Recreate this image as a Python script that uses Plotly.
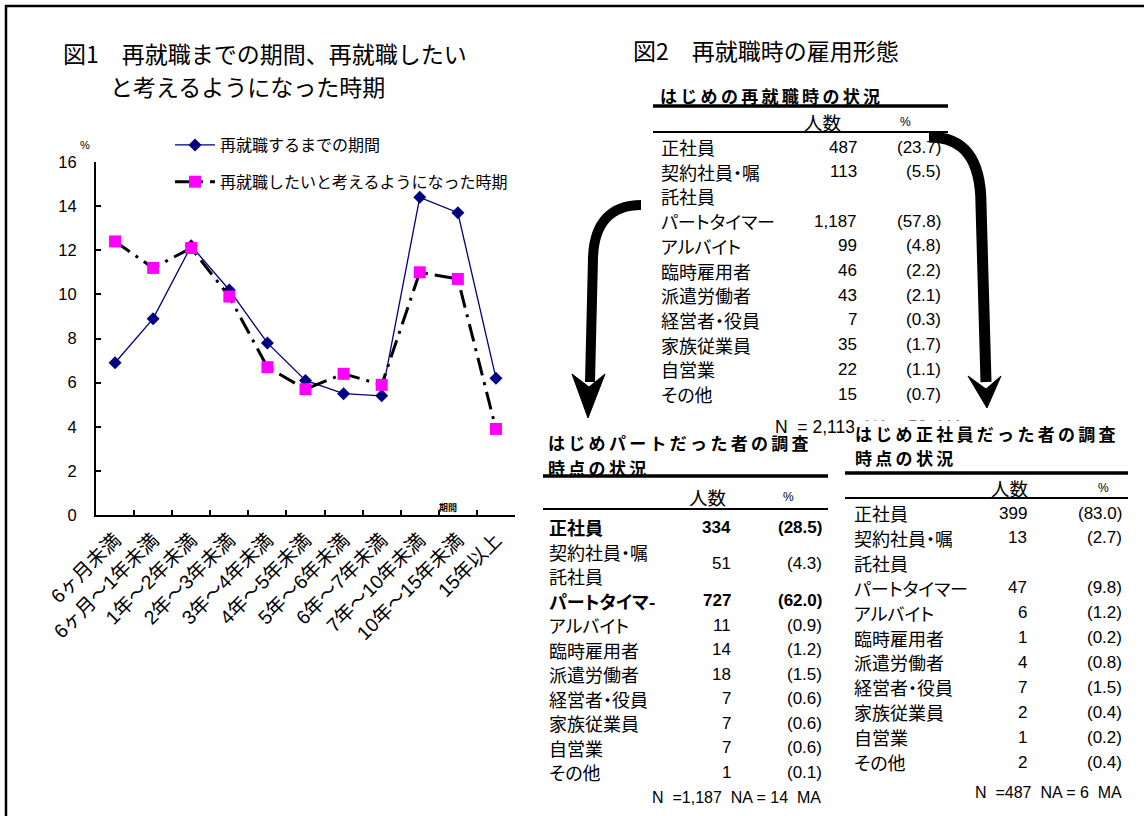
import plotly.graph_objects as go

# ---- figure size and pixel helpers ----
W, H = 1144, 816


def px(x):
    return x / W


def py(y):
    return 1 - y / H


FONT = "Liberation Sans, Arial, Noto Sans CJK JP, sans-serif"
JP = "Noto Sans CJK JP, Liberation Sans, sans-serif"

# ---- 図1 data ----
periods = ["6ヶ月未満", "6ヶ月～1年未満", "1年～2年未満", "2年～3年未満", "3年～4年未満",
           "4年～5年未満", "5年～6年未満", "6年～7年未満", "7年～10年未満", "10年～15年未満",
           "15年以上"]
until_reemployment = [6.9, 8.9, 12.2, 10.2, 7.8, 6.1, 5.5, 5.4, 14.4, 13.7, 6.2]
wish_timing = [12.4, 11.2, 12.1, 9.9, 6.7, 5.7, 6.4, 5.9, 11.0, 10.7, 3.9]
y_ticks = [0, 2, 4, 6, 8, 10, 12, 14, 16]

# ---- 図2 data ----
t1_labels = ["正社員", "契約社員・嘱\n託社員", "パートタイマー", "アルバイト", "臨時雇用者",
             "派遣労働者", "経営者・役員", "家族従業員", "自営業", "その他"]
t1_counts = [487, 113, 1187, 99, 46, 43, 7, 35, 22, 15]
t1_pcts = [23.7, 5.5, 57.8, 4.8, 2.2, 2.1, 0.3, 1.7, 1.1, 0.7]

t2_labels = ["正社員", "契約社員・嘱\n託社員", "パートタイマ-", "アルバイト", "臨時雇用者",
             "派遣労働者", "経営者・役員", "家族従業員", "自営業", "その他"]
t2_counts = [334, 51, 727, 11, 14, 18, 7, 7, 7, 1]
t2_pcts = [28.5, 4.3, 62.0, 0.9, 1.2, 1.5, 0.6, 0.6, 0.6, 0.1]

t3_labels = t1_labels
t3_counts = [399, 13, 47, 6, 1, 4, 7, 2, 1, 2]
t3_pcts = [83.0, 2.7, 9.8, 1.2, 0.2, 0.8, 1.5, 0.4, 0.2, 0.4]

fig = go.Figure()

fig.add_trace(go.Scatter(
    x=periods, y=until_reemployment, name="再就職するまでの期間",
    mode="lines+markers", legendgroup="a",
    line=dict(color="#000080", width=1.3),
    marker=dict(symbol="diamond", size=10, color="#000080"),
))
fig.add_trace(go.Scatter(
    x=periods, y=wish_timing, name="再就職したいと考えるようになった時期",
    mode="lines+markers", legendgroup="b",
    line=dict(color="#000000", width=3, dash="18px,7px,3px,7px"),
    marker=dict(symbol="square", size=12, color="#FF00FF"),
))

fig.update_xaxes(
    type="category", domain=[px(96), px(515)], range=[-0.5, 10.5],
    showline=True, linecolor="black", linewidth=2, mirror=False, automargin=False,
    ticks="inside", ticklen=5, tickwidth=1.5, tickcolor="black",
    tickson="boundaries", tickangle=-45, showgrid=False, zeroline=False,
    tickfont=dict(family=FONT, size=19.5, color="black"), ticklabelstandoff=4,
)
fig.update_yaxes(
    domain=[py(515), py(162)], range=[0, 16], tickvals=y_ticks, automargin=False,
    showline=True, linecolor="black", linewidth=2,
    ticks="inside", ticklen=5, tickwidth=1.5, tickcolor="black",
    showgrid=False, zeroline=False,
    tickfont=dict(family=FONT, size=16.5, color="black"), ticklabelstandoff=14,
)

ann = []
shapes = []

PALT = "<span style=\"font-feature-settings:'palt'\">{}</span>"


def text(x, y, s, size=17, xanchor="left", bold=False, family=JP, **kw):
    if bold:
        s = "<b>" + s + "</b>"
    kw.setdefault("borderpad", 0)
    ann.append(dict(x=px(x), y=py(y), xref="paper", yref="paper", text=s,
                    showarrow=False, xanchor=xanchor, yanchor="middle",
                    font=dict(family=family, size=size, color="black"), **kw))


def hline(x0, x1, y, w):
    shapes.append(dict(type="line", xref="paper", yref="paper",
                       x0=px(x0), x1=px(x1), y0=py(y), y1=py(y),
                       line=dict(color="black", width=w)))


# page frame
hline(5, W, 6, 2.5)
shapes.append(dict(type="line", xref="paper", yref="paper", x0=px(6), x1=px(6),
                   y0=py(5), y1=0, line=dict(color="black", width=2.5)))

# 図1 titles and axis notes
text(62, 53, "図1　再就職までの期間、再就職したい", size=23)
text(109, 86, "と考えるようになった時期", size=23)
text(85, 145, "%", size=11, xanchor="center", family=FONT)
text(448, 507, "期間", size=9, xanchor="center", bold=True)

# 図2 title
text(632, 50, "図2　再就職時の雇用形態", size=23)


def spaced(s):
    return '<span style="letter-spacing:3.3px">' + s + "</span>"


def add_table(title_lines, title_x, title_y, x0, x1, thick_y, thin_y, head_y,
              count_cx, pct_cx, label_x, count_rx, pct_rx, row_y0, row_dy,
              labels, counts, pcts, n_text, n_rx, n_y, bold_rows=(),
              value_mid=False, cover_first=False):
    for i, t in enumerate(title_lines):
        extra = dict(bgcolor="white") if (cover_first and i == 0) else {}
        text(title_x, title_y + i * 24.5, spaced("<b>" + t + "</b>"), size=17, **extra)
    hline(x0, x1, thick_y, 3.5)
    hline(x0, x1, thin_y, 2)
    text(count_cx, head_y, "人数", size=18.5, xanchor="center")
    text(pct_cx, head_y, "%", size=12, xanchor="center", family=FONT)
    line = 0
    for lab, c, p, i in zip(labels, counts, pcts, range(len(labels))):
        parts = lab.split("\n")
        b = i in bold_rows
        for k, part in enumerate(parts):
            text(label_x, row_y0 + (line + k) * row_dy, PALT.format(part), size=18, bold=b)
        vy = row_y0 + line * row_dy
        if value_mid and len(parts) > 1:
            vy += row_dy * (len(parts) - 1) / 2
        text(count_rx, vy, f"{c:,}", size=17, xanchor="right", bold=b, family=FONT)
        text(pct_rx, vy, f"({p:.1f})", size=17, xanchor="right", bold=b, family=FONT)
        line += len(parts)
    if n_text:
        text(n_rx, n_y, n_text, size=16, xanchor="right", family=FONT)


# total line of the first table, partly tucked under the next title
text(774, 427, "N  = 2,113  NA = 59  MA", size=17.5, family=FONT)

add_table(["はじめの再就職時の状況"], 659, 95, 653, 948, 106, 132, 122,
          822, 905, 660, 858, 942, 147, 24.7, t1_labels, t1_counts, t1_pcts,
          "", 942, 427)

add_table(["はじめパートだった者の調査", "時点の状況"], 547, 443, 543, 828, 476, 509, 497,
          707, 788, 548, 732, 823, 527, 24.5, t2_labels, t2_counts, t2_pcts,
          "N  =1,187  NA = 14  MA", 822, 797, bold_rows=(0, 2), value_mid=True)

add_table(["はじめ正社員だった者の調査", "時点の状況"], 854, 433, 845, 1128, 473, 498, 488,
          1009, 1103, 853, 1028, 1123, 513, 24.9, t3_labels, t3_counts, t3_pcts,
          "N  =487  NA = 6  MA", 1123, 792, cover_first=True)


def P(x, y):
    return f"{px(x):.5f},{py(y):.5f}"


# curved arrows linking the tables
shapes.append(dict(type="path", xref="paper", yref="paper",
                   path=f"M {P(641, 205)} C {P(612, 205)} {P(594, 222)} {P(593, 258)} L {P(590, 382)}",
                   line=dict(color="black", width=10), fillcolor="rgba(0,0,0,0)"))
shapes.append(dict(type="path", xref="paper", yref="paper",
                   path=f"M {P(572, 374)} L {P(589, 387)} L {P(605, 374)} L {P(588, 418)} Z",
                   line=dict(color="black", width=1), fillcolor="black"))
shapes.append(dict(type="path", xref="paper", yref="paper",
                   path=f"M {P(929, 137)} C {P(965, 137)} {P(981, 160)} {P(981, 205)} L {P(986, 382)}",
                   line=dict(color="black", width=11), fillcolor="rgba(0,0,0,0)"))
shapes.append(dict(type="path", xref="paper", yref="paper",
                   path=f"M {P(968, 376)} L {P(986, 389)} L {P(1001, 376)} L {P(987, 408)} Z",
                   line=dict(color="black", width=1), fillcolor="black"))

fig.update_layout(
    width=W, height=H, margin=dict(l=0, r=0, t=0, b=0, autoexpand=False),
    paper_bgcolor="white", plot_bgcolor="white",
    font=dict(family=JP, color="black"),
    showlegend=True,
    legend=dict(x=px(170), y=py(128), xanchor="left", yanchor="top",
                font=dict(family=JP, size=16, color="black"),
                bgcolor="rgba(0,0,0,0)", tracegroupgap=13, itemwidth=40),
    annotations=ann, shapes=shapes,
)

fig.write_html("out.html")
